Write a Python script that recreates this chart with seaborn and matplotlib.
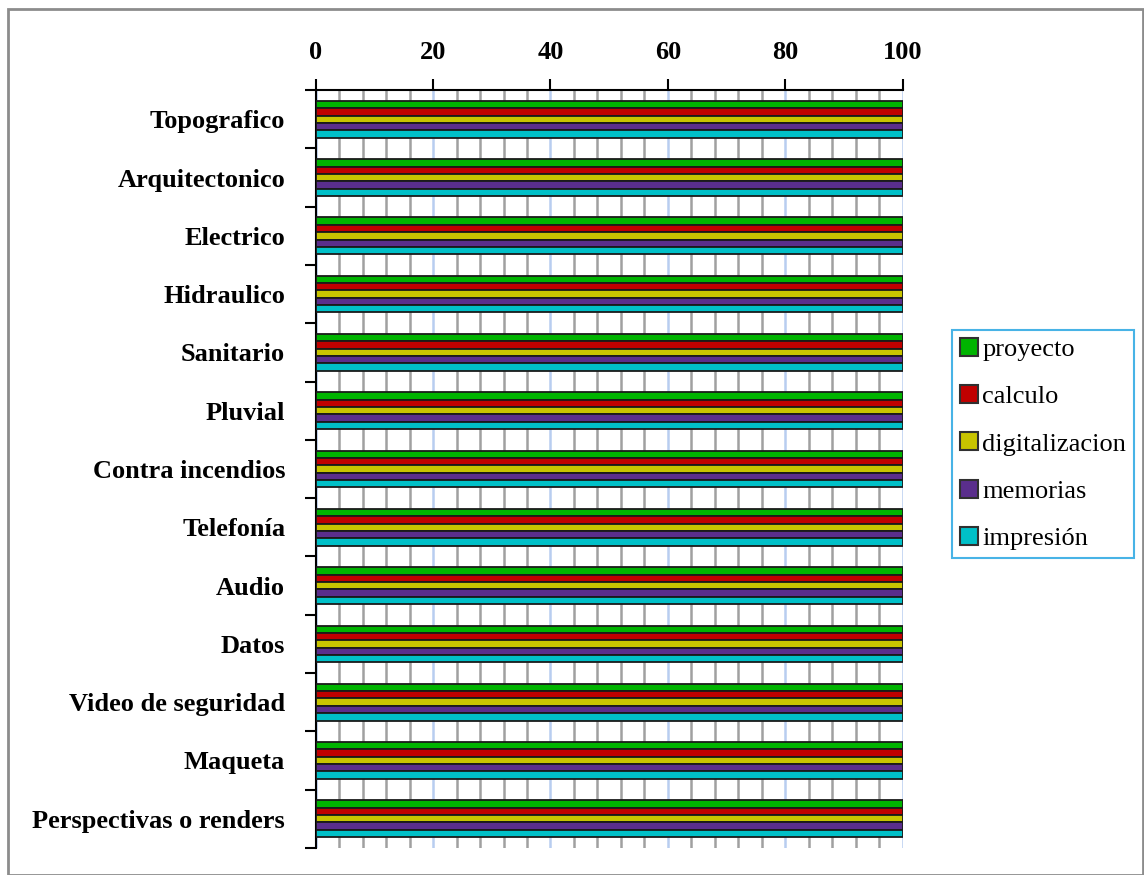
import numpy as np
import pandas as pd
import matplotlib
matplotlib.use("Agg")
import matplotlib.pyplot as plt
from matplotlib.patches import Rectangle
from matplotlib.ticker import MultipleLocator, FixedLocator
import seaborn as sns

categories = ["Topografico", "Arquitectonico", "Electrico", "Hidraulico", "Sanitario",
              "Pluvial", "Contra incendios", "Telefonía", "Audio", "Datos",
              "Video de seguridad", "Maqueta", "Perspectivas o renders"]
series = ["proyecto", "calculo", "digitalizacion", "memorias", "impresión"]
proyecto = [100] * 13
calculo = [100] * 13
digitalizacion = [100] * 13
memorias = [100] * 13
impresion = [100] * 13
colors = ["#00b400", "#c00000", "#c8c400", "#5a2e8c", "#00c0c8"]

values = [proyecto, calculo, digitalizacion, memorias, impresion]
df = pd.DataFrame({
    "categoria": np.tile(categories, len(series)),
    "serie": np.repeat(series, len(categories)),
    "valor": np.concatenate(values),
})

sns.set_style("white")
plt.rcParams["font.family"] = ["Liberation Serif", "DejaVu Serif"]
plt.rcParams["text.color"] = "black"
plt.rcParams["xtick.color"] = "black"
plt.rcParams["ytick.color"] = "black"

fig = plt.figure(figsize=(11.44, 8.75), dpi=100)
ax = fig.add_axes([0.276, 0.031, 0.513, 0.866])

sns.barplot(data=df, y="categoria", x="valor", hue="serie", orient="h",
            palette=colors, width=0.63, edgecolor="#1a1a1a", linewidth=1.3,
            saturation=1, ax=ax, legend=True, zorder=3)

ax.set_xlim(0, 100)
ax.set_ylim(len(categories) - 0.5, -0.5)
ax.set_xlabel("")
ax.set_ylabel("")

# x axis on top
ax.xaxis.tick_top()
ax.xaxis.set_major_locator(MultipleLocator(20))
ax.xaxis.set_minor_locator(MultipleLocator(4))
ax.tick_params(axis="x", which="major", direction="out", length=8, width=1.5,
               labelsize=19, pad=11, labelcolor="black")
ax.tick_params(axis="x", which="minor", length=0)
for lbl in ax.get_xticklabels():
    lbl.set_fontweight("bold")

ax.grid(axis="x", which="minor", color="#a0a0a0", linewidth=1.8)
ax.grid(axis="x", which="major", color="#b8cdf0", linewidth=1.8)
ax.grid(axis="y", visible=False)
ax.set_axisbelow(True)

# y ticks: labels at centres, tick marks at boundaries
ax.yaxis.set_minor_locator(FixedLocator(np.arange(-0.5, len(categories), 1)))
ax.tick_params(axis="y", which="major", length=0, labelsize=19, pad=22,
               labelcolor="black")
ax.tick_params(axis="y", which="minor", direction="out", length=8, width=1.5, left=True)
for lbl in ax.get_yticklabels():
    lbl.set_fontweight("bold")

for side in ["right", "bottom"]:
    ax.spines[side].set_visible(False)
for side in ["top", "left"]:
    ax.spines[side].set_color("black")
    ax.spines[side].set_linewidth(1.5)

ax.get_legend().remove()
handles = [plt.Line2D([], [], marker="s", linestyle="", markersize=13,
                      markerfacecolor=c, markeredgecolor="#303030", markeredgewidth=1.5)
           for c in colors]
leg = fig.legend(handles, series, loc="upper left", bbox_to_anchor=(0.832, 0.623),
                 bbox_transform=fig.transFigure, fontsize=19, frameon=True,
                 fancybox=False, edgecolor="#1aa0e0", handlelength=0.7,
                 handletextpad=0.15, labelspacing=0.9, borderpad=0.3,
                 borderaxespad=0)
leg.get_frame().set_linewidth(1.5)

fig.patches.append(Rectangle((0.007, 0.0), 0.992, 0.99, transform=fig.transFigure,
                             fill=False, edgecolor="#8c8c8c", linewidth=2))

fig.savefig("out.png", dpi=100)
